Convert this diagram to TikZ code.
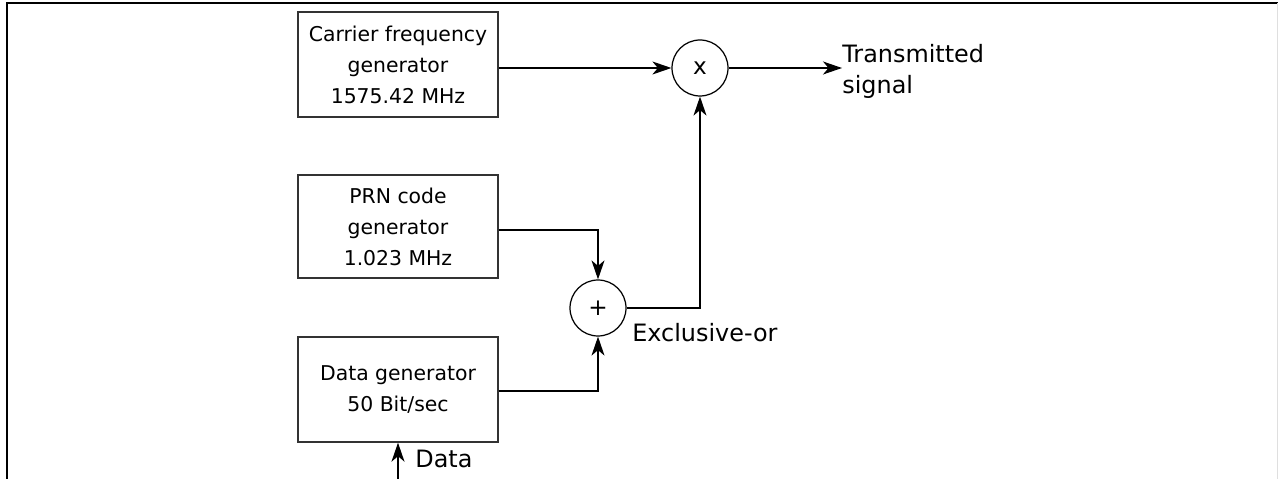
\documentclass[tikz,border=0pt]{standalone}
\usepackage{fontspec}
\setmainfont{DejaVu Sans}
\usetikzlibrary{arrows.meta,positioning}
\definecolor{gpsink}{HTML}{000000}
\definecolor{gpsframe}{HTML}{333333}

\begin{document}
\begin{tikzpicture}[
    x=0.02cm,y=-0.02cm,
    >=Stealth,
    wire/.style={-{Stealth[length=3.8mm,width=2.6mm,inset=1.1mm]},line width=0.7pt,draw=gpsink},
    genbox/.style={rectangle,draw=gpsframe,line width=0.8pt,minimum width=4cm,minimum height=2.1cm,
      align=center,font=\fontsize{11.6}{17.6}\selectfont,text=gpsink},
    mixer/.style={circle,draw=gpsink,line width=0.7pt,minimum size=1.12cm,inner sep=0pt,
      font=\fontsize{13.2}{15}\selectfont},
    tag/.style={inner sep=0pt,align=left,font=\fontsize{13.6}{17.6}\selectfont,text=gpsink}
  ]
    \useasboundingbox (0,0) rectangle (1278,479);
    \draw[line width=1.1pt,draw=gpsink] (7,479) -- (7,3) -- (1278,3);
    \draw[line width=0.4pt,draw=gray!25] (1277,3) -- (1277,479);

    \node[genbox] (carrier) at (398,64.5) {Carrier frequency\\generator\\1575.42 MHz};
    \node[genbox,minimum height=2.06cm] (prn) at (398,226.5) {PRN code\\generator\\1.023 MHz};
    \node[genbox] (datagen) at (398,389.5) {Data generator\\50 Bit/sec};

    \node[mixer] (mult) at (700,68) {x};
    \node[mixer] (xor) at (598,308) {+};

    \coordinate (txout) at (842,68);
    \coordinate (datain) at (398,479);

    \node[tag,anchor=west] (txlabel) at (842,71) {Transmitted\\signal};
    \node[tag,anchor=base west] (xorlabel) at (632,342) {Exclusive-or};
    \node[tag,anchor=base west] (datalabel) at (415,467) {Data};

    \draw[wire] (carrier.east |- mult.west) -- (mult.west);
    \draw[wire] (mult.east) -- (txout);
    \draw[wire] (prn.east |- 0,230) -| (xor.north);
    \draw[wire] (datagen.east |- 0,391) -| (xor.south);
    \draw[wire] (xor.east) -| (mult.south);
    \draw[wire] (datain) -- (datagen.south);
  \end{tikzpicture}
\end{document}
